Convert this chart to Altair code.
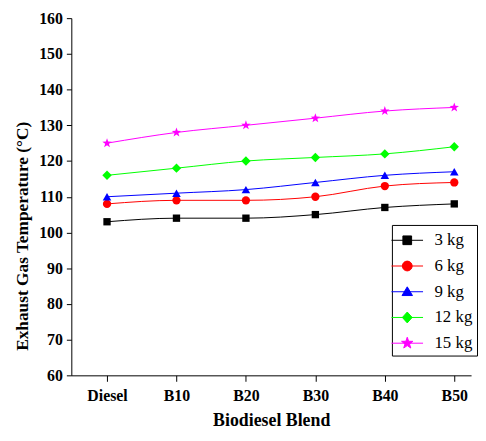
import math
import altair as alt
import pandas as pd

blends = ["Diesel", "B10", "B20", "B30", "B40", "B50"]
series = ["3 kg", "6 kg", "9 kg", "12 kg", "15 kg"]
t3 = [103, 104, 104, 105, 107, 108]
t6 = [108, 109, 109, 110, 113, 114]
t9 = [110, 111, 112, 114, 116, 117]
t12 = [116, 118, 120, 121, 122, 124]
t15 = [125, 128, 130, 132, 134, 135]
values = [t3, t6, t9, t12, t15]

colors = ["#000000", "#ff0000", "#0000ff", "#00ff00", "#ff00ff"]

rows = []
for s, vals in zip(series, values):
    for b, v in zip(blends, vals):
        rows.append({"blend": b, "series": s, "temp": v})
df = pd.DataFrame(rows)


def star_path(ro, ri):
    pts = []
    for k in range(10):
        r = ro if k % 2 == 0 else ri
        a = -math.pi / 2 + k * math.pi / 5
        pts.append((r * math.cos(a), r * math.sin(a)))
    return "M" + "L".join(f"{x:.3f},{y:.3f}" for x, y in pts) + "Z"


plot_shapes = ["square", "circle", "triangle-up", "diamond", star_path(1.0, 0.4)]
plot_sizes = [55, 70, 75, 90, 100]

# legend symbols: line segment + marker
L = "M-1.45,0H1.45"
legend_paths = [
    L + "M-0.4,-0.4H0.4V0.4H-0.4Z",
    L + "M0.45,0A0.45,0.45 0 1,1 -0.45,0A0.45,0.45 0 1,1 0.45,0Z",
    L + "M0,-0.45L0.48,0.35H-0.48Z",
    L + "M0,-0.5L0.45,0L0,0.5L-0.45,0Z",
    L + star_path(0.55, 0.22),
]

FONT = "Liberation Serif"

leg = alt.Legend(
    title=None,
    orient="none",
    legendX=324,
    legendY=209,
    strokeColor="black",
    padding=4,
    rowPadding=6,
    symbolSize=484,
    symbolStrokeWidth=1,
    symbolStrokeColor={"expr": "scale('color', datum.value)"},
    symbolOpacity=1,
    labelFont=FONT,
    labelFontSize=17,
    labelOffset=16,
    labelColor="black",
)

xenc = alt.X("blend:N", sort=blends,
             scale=alt.Scale(type="point", padding=0.378, align=0.68),
             axis=alt.Axis(title="Biodiesel Blend", labelAngle=0, titlePadding=9))
yenc = alt.Y("temp:Q", scale=alt.Scale(domain=[60, 160], nice=False, zero=False),
             axis=alt.Axis(title="Exhaust Gas Temperature (°C)", values=list(range(60, 161, 10)),
                           titleY=220, titleX=-40))
cenc = alt.Color("series:N", scale=alt.Scale(domain=series, range=colors), legend=leg)

base = alt.Chart(df)

lines = base.mark_line(strokeWidth=1, interpolate="monotone").encode(
    x=xenc, y=yenc, color=cenc)

layers = [lines]
for s, shp, sz in zip(series, plot_shapes, plot_sizes):
    layers.append(
        base.transform_filter(alt.datum.series == s)
        .mark_point(shape=shp, filled=True, size=sz, opacity=1)
        .encode(x=xenc, y=yenc, color=cenc)
    )

legend_layer = base.transform_filter(alt.datum.temp < 0).mark_point(filled=True, opacity=1).encode(
    x=xenc, y=yenc, color=cenc,
    shape=alt.Shape("series:N", scale=alt.Scale(domain=series, range=legend_paths), legend=leg),
)
layers.append(legend_layer)

chart = alt.layer(*layers).properties(
    width=404, height=361,
    padding={"left": 6, "top": 0, "right": 0, "bottom": 0},
).configure_view(stroke=None).configure_axis(
    labelFont=FONT, labelFontSize=16, labelFontWeight="bold", labelColor="black",
    titleFont=FONT, titleFontSize=17.5, titleFontWeight="bold", titleColor="black",
    domainColor="black", tickColor="black", tickSize=5, grid=False,
    labelPadding=4,
).configure_axisX(labelPadding=6, tickSize=6, titleFontSize=18)

chart.save("out.html", embed_options={"renderer": "svg", "actions": False})
